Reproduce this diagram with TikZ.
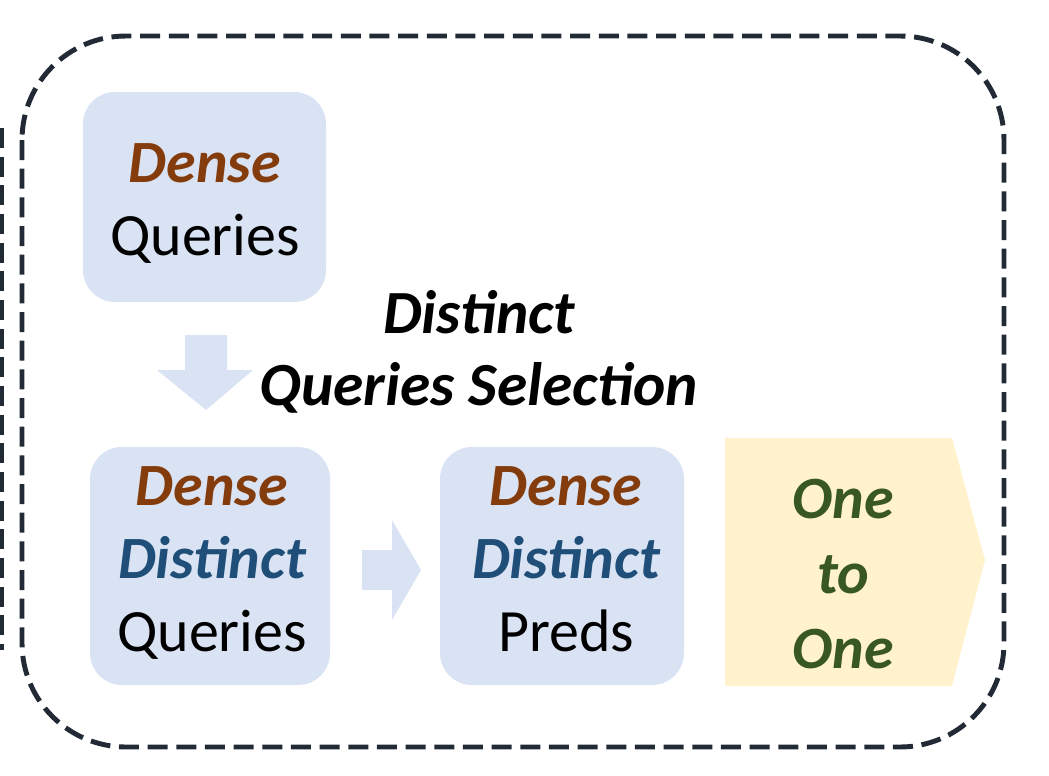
\documentclass[tikz,border=0pt]{standalone}
\usepackage{fontspec}
\setmainfont{Carlito}
\definecolor{boxfill}{HTML}{DAE3F3}
\definecolor{yellowfill}{HTML}{FFF2CC}
\definecolor{densec}{HTML}{843C0C}
\definecolor{distc}{HTML}{1F4E79}
\definecolor{onec}{HTML}{385723}
\definecolor{framec}{HTML}{222A35}
\newcommand{\Dn}{{\bfseries\itshape\color{densec}Dense}}
\newcommand{\Ds}{{\bfseries\itshape\color{distc}Distinct}}
\tikzset{
  qbox/.style={rounded corners=24pt, fill=boxfill, draw=none, inner sep=0pt},
  qtext/.style={inner sep=0pt, align=center, font=\fontsize{45}{54.75}\selectfont},
  frameline/.style={draw=framec, line width=3.7pt, dash pattern=on 15pt off 6.5pt},
  blockarrow/.style={fill=boxfill, draw=none},
}
\begin{document}
\begin{tikzpicture}[x=0.75pt,y=-0.75pt]
\useasboundingbox (0,0) rectangle (1049,775);
% outer frame
\draw[frameline, rounded corners=78pt] (22,36) rectangle (1004,747);
\draw[frameline, line width=3pt] (2,128) -- (2,650);
% boxes
\node[qbox, minimum width=182.25pt, minimum height=157.5pt] (dq) at (204.5,197) {};
\node[qbox, minimum width=180pt, minimum height=178.5pt] (ddq) at (210,566) {};
\node[qbox, minimum width=183pt, minimum height=178.5pt] (ddp) at (562,566) {};
\node[qtext] (dqt) at (205,204) {\Dn\strut\\Queries\strut};
\node[qtext] (ddqt) at (212,563.4) {\Dn\strut\\\Ds\strut\\Queries\strut};
\node[qtext] (ddpt) at (566,563.4) {\Dn\strut\\\Ds\strut\\Preds\strut};
% down arrow
\fill[blockarrow] (185,335) -- (227,335) -- (227,370) -- (253,370) -- (206,410) -- (157,370) -- (185,370) -- cycle;
% right arrow
\fill[blockarrow] (362,550) -- (392,550) -- (392,520) -- (421,570) -- (392,620) -- (392,590) -- (362,590) -- cycle;
% selection label
\node[inner sep=0pt, align=center, font=\fontsize{46}{54}\selectfont\bfseries\itshape] (sel) at (479,354.6) {Distinct\strut\\Queries Selection\strut};
% one to one
\fill[yellowfill] (725,438) -- (952,438) -- (985,560) -- (952,686) -- (725,686) -- cycle;
\node[inner sep=0pt, align=center, text=onec, font=\fontsize{45}{56.25}\selectfont\bfseries\itshape] (o2o) at (843,578) {One\strut\\to\strut\\One\strut};
\end{tikzpicture}
\end{document}
